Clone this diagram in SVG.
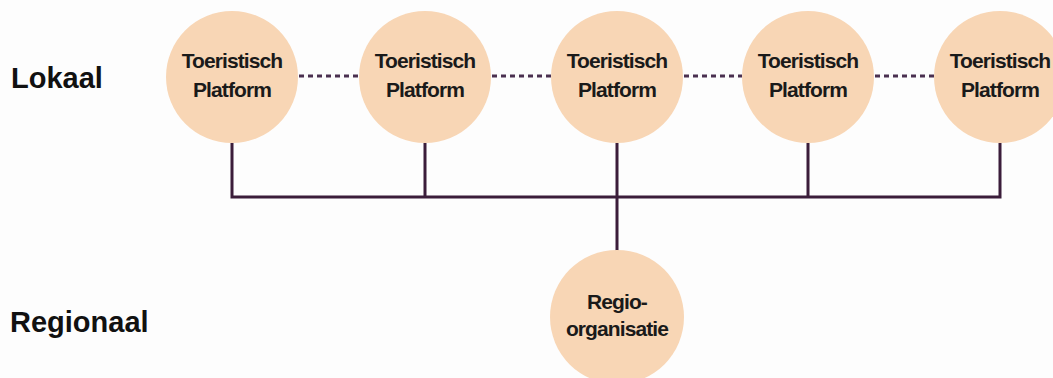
<svg xmlns="http://www.w3.org/2000/svg" width="1053" height="378" viewBox="0 0 1053 378">
<style>
.bg{fill:#fdfdfd}
.node{fill:#f8d6b5}
.lbl{font-family:"Liberation Sans",Arial,sans-serif;font-weight:bold;font-size:21px;fill:#1a1a1a;text-anchor:middle;letter-spacing:-0.9px}
.lvl{font-family:"Liberation Sans",Arial,sans-serif;font-weight:bold;font-size:29px;fill:#111}
.solid{stroke:#3b1d3a;stroke-width:3;fill:none}
.dash{stroke:#4a3050;stroke-width:3;fill:none;stroke-dasharray:5 4}
</style>
<rect class="bg" width="1053" height="378"/>
<text class="lvl" x="11" y="88">Lokaal</text>
<text class="lvl" x="10" y="332">Regionaal</text>
<g id="connectors">
<path class="solid" d="M232 143V197H1000V143M425 143V197M617 143V252M808 143V197"/>
<path class="dash" d="M299 76H358M492 76H551M684 76H742M875 76H934"/>
</g>
<g id="tp1"><circle class="node" cx="232" cy="77" r="66"/><text class="lbl" x="232" y="68">Toeristisch</text><text class="lbl" x="232" y="97">Platform</text></g>
<g id="tp2"><circle class="node" cx="425" cy="77" r="66"/><text class="lbl" x="425" y="68">Toeristisch</text><text class="lbl" x="425" y="97">Platform</text></g>
<g id="tp3"><circle class="node" cx="617" cy="77" r="66"/><text class="lbl" x="617" y="68">Toeristisch</text><text class="lbl" x="617" y="97">Platform</text></g>
<g id="tp4"><circle class="node" cx="808" cy="77" r="66"/><text class="lbl" x="808" y="68">Toeristisch</text><text class="lbl" x="808" y="97">Platform</text></g>
<g id="tp5"><circle class="node" cx="1000" cy="77" r="66"/><text class="lbl" x="1000" y="68">Toeristisch</text><text class="lbl" x="1000" y="97">Platform</text></g>
<g id="regio"><circle class="node" cx="617" cy="317" r="67"/><text class="lbl" x="617" y="309">Regio-</text><text class="lbl" x="617" y="336">organisatie</text></g>
</svg>
